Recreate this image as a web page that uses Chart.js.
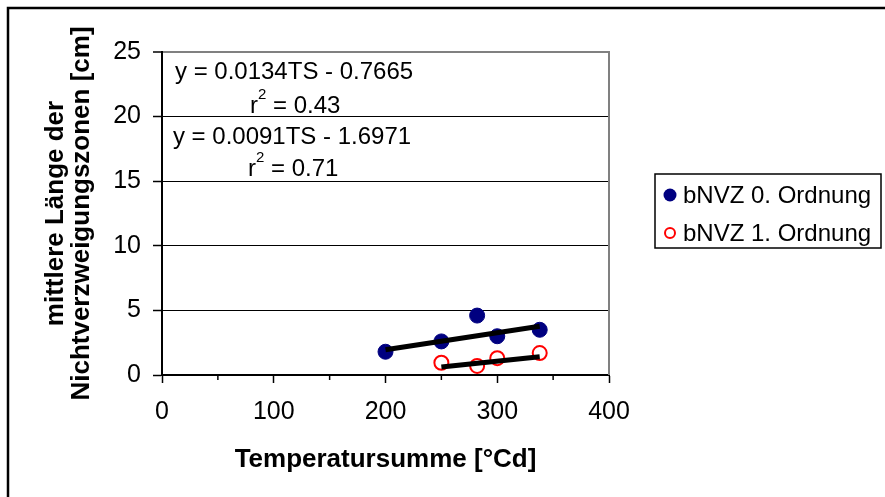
<!DOCTYPE html>
<html>
<head>
<meta charset="utf-8">
<script src="https://cdn.jsdelivr.net/npm/chart.js@4.4.1/dist/chart.umd.min.js"></script>
<style>
    html, body { margin: 0; padding: 0; background: #fff; }
    #wrap { width: 885px; height: 497px; }
</style>
</head>
<body>
<div id="wrap"><canvas id="NvzChart" width="885" height="497"></canvas></div>
<script>
    // values
    const seriesNames = ['bNVZ 0. Ordnung', 'bNVZ 1. Ordnung'];
    const tempSum0 = [200, 250, 282, 300, 338];
    const length0 = [1.8, 2.6, 4.6, 3.0, 3.5];
    const tempSum1 = [250, 282, 300, 338];
    const length1 = [0.95, 0.7, 1.3, 1.7];
    const trendX0 = [200, 338];
    const trendY0 = [1.95, 3.77];
    const trendX1 = [250, 338];
    const trendY1 = [0.62, 1.42];
    const equations = ['y = 0.0134TS - 0.7665', 'y = 0.0091TS - 1.6971'];
    const rSquared = ['0.43', '0.71'];

    const FONT = '"Liberation Sans", Arial, sans-serif';
    Chart.defaults.font.family = FONT;
    Chart.defaults.color = '#000';

    const toPoints = (xs, ys) => xs.map((x, i) => ({ x: x, y: ys[i] }));

    // where the equation labels sit, in axis units
    const eqPos = [{ x: 11.6, y: 23.45 }, { x: 9.8, y: 18.4 }];
    const rPos = [{ x: 78.7, y: 20.8 }, { x: 77, y: 15.95 }];

    const decorPlugin = {
        id: 'decor',
        afterDraw(chart) {
            const c = chart.ctx;
            const area = chart.chartArea;
            const xs = chart.scales.x;
            const ys = chart.scales.y;
            c.save();

            // outer frame (top and left only)
            c.strokeStyle = '#000';
            c.lineWidth = 2.5;
            c.beginPath();
            c.moveTo(8, 497);
            c.lineTo(8, 8);
            c.lineTo(885, 8);
            c.stroke();

            // plot area right edge
            c.strokeStyle = '#808080';
            c.lineWidth = 2;
            c.beginPath();
            c.moveTo(area.right, area.top - 1);
            c.lineTo(area.right, area.bottom);
            c.stroke();

            // short minor ticks on x
            c.strokeStyle = '#000';
            c.lineWidth = 1.5;
            xs.ticks.forEach(function (t) {
                if (t.value % 100 !== 0) {
                    const px = xs.getPixelForValue(t.value);
                    c.beginPath();
                    c.moveTo(px, area.bottom);
                    c.lineTo(px, area.bottom + 5);
                    c.stroke();
                }
            });

            // regression labels
            c.fillStyle = '#000';
            c.textBaseline = 'middle';
            c.textAlign = 'left';
            equations.forEach(function (eq, i) {
                c.font = '24px ' + FONT;
                c.fillText(eq, xs.getPixelForValue(eqPos[i].x), ys.getPixelForValue(eqPos[i].y));
                let px = xs.getPixelForValue(rPos[i].x);
                const py = ys.getPixelForValue(rPos[i].y);
                c.fillText('r', px, py);
                px += c.measureText('r').width;
                c.font = '15px ' + FONT;
                c.fillText('2', px, py - 11);
                px += c.measureText('2').width;
                c.font = '24px ' + FONT;
                c.fillText(' = ' + rSquared[i], px, py);
            });

            // legend
            c.strokeStyle = '#000';
            c.lineWidth = 1.5;
            c.strokeRect(655, 174, 226, 74);
            const rows = [195, 233];
            c.font = '24px ' + FONT;
            seriesNames.forEach(function (name, i) {
                c.beginPath();
                if (i === 0) {
                    c.arc(670, rows[i], 6.5, 0, Math.PI * 2);
                    c.fillStyle = '#000080';
                    c.fill();
                } else {
                    c.arc(670, rows[i], 5, 0, Math.PI * 2);
                    c.strokeStyle = '#ff0000';
                    c.lineWidth = 2;
                    c.stroke();
                }
                c.fillStyle = '#000';
                c.fillText(name, 683, rows[i] + 1);
            });
            c.restore();
        }
    };

    const ctx = document.getElementById('NvzChart');
    const NvzChart = new Chart(ctx, {
        type: 'scatter',
        data: {
            datasets: [
                {
                    label: 'trend0',
                    data: toPoints(trendX0, trendY0),
                    showLine: true,
                    borderColor: '#000',
                    borderWidth: 5,
                    pointRadius: 0,
                    order: 0
                },
                {
                    label: 'trend1',
                    data: toPoints(trendX1, trendY1),
                    showLine: true,
                    borderColor: '#000',
                    borderWidth: 5,
                    pointRadius: 0,
                    order: 0
                },
                {
                    label: seriesNames[0],
                    data: toPoints(tempSum0, length0),
                    backgroundColor: '#000080',
                    borderColor: '#000080',
                    pointRadius: 7.5,
                    order: 1
                },
                {
                    label: seriesNames[1],
                    data: toPoints(tempSum1, length1),
                    backgroundColor: '#fff',
                    borderColor: '#ff0000',
                    borderWidth: 2,
                    pointRadius: 7,
                    order: 1
                }
            ]
        },
        options: {
            responsive: false,
            animation: false,
            layout: {
                padding: { left: 0, top: 52, right: 276, bottom: 0 }
            },
            plugins: {
                legend: { display: false },
                tooltip: { enabled: false }
            },
            scales: {
                x: {
                    type: 'linear',
                    position: 'bottom',
                    min: 0,
                    max: 400,
                    afterFit: function (scale) {
                        scale.height = 122;
                    },
                    ticks: {
                        stepSize: 50,
                        autoSkip: false,
                        maxRotation: 0,
                        padding: 14,
                        font: { size: 25 },
                        callback: function (value) {
                            return value % 100 === 0 ? value : '';
                        }
                    },
                    grid: {
                        drawOnChartArea: false,
                        tickLength: 8,
                        tickColor: function (context) {
                            return context.tick && context.tick.value % 100 === 0 ? '#000' : 'rgba(0,0,0,0)';
                        },
                        tickWidth: 1.5
                    },
                    border: { color: '#000', width: 2 },
                    title: {
                        display: true,
                        text: 'Temperatursumme [°Cd]',
                        font: { size: 26, weight: 'bold', lineHeight: 1.2 },
                        padding: { top: 0, bottom: 22 }
                    }
                },
                y: {
                    min: 0,
                    max: 25,
                    afterFit: function (scale) {
                        scale.width = 162;
                    },
                    ticks: {
                        stepSize: 5,
                        padding: 12,
                        font: { size: 25 }
                    },
                    grid: {
                        color: function (context) {
                            return context.tick && context.tick.value === 25 ? '#808080' : '#000';
                        },
                        lineWidth: function (context) {
                            return context.tick && context.tick.value === 25 ? 2 : 1;
                        },
                        tickLength: 9,
                        tickColor: '#000',
                        tickWidth: 1.5
                    },
                    border: { color: '#000', width: 2 },
                    title: {
                        display: true,
                        text: ['mittlere Länge der', 'Nichtverzweigungszonen [cm]'],
                        font: { size: 26, weight: 'bold', lineHeight: 1.0 },
                        padding: { top: 43, bottom: 0 }
                    }
                }
            }
        },
        plugins: [decorPlugin]
    });
</script>
</body>
</html>
